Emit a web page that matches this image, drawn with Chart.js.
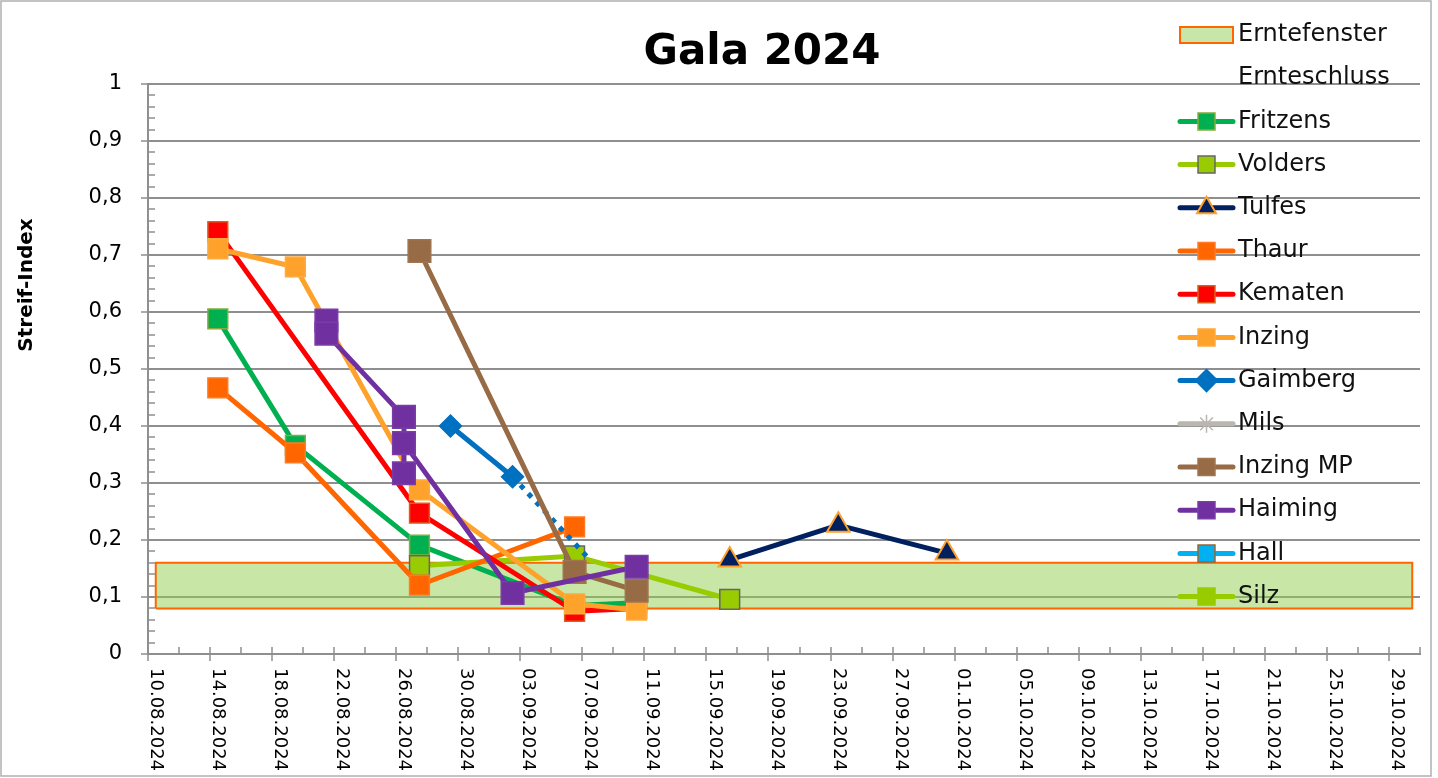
<!DOCTYPE html>
<html>
<head>
<meta charset="utf-8">
<title>Gala 2024</title>
<script src="https://cdn.jsdelivr.net/npm/chart.js@4.4.1/dist/chart.umd.min.js"></script>
<style>
  body { margin: 0; background: #fff; }
  canvas { display: block; }
</style>
</head>
<body>
<canvas id="chart" width="1438" height="778"></canvas>
<script>
const chartTitle = 'Gala 2024';
const yTitle = 'Streif-Index';

// Erntefenster (harvest window)
const bandDates = ['10.08', '30.10'];
const bandLow = 0.08;
const bandHigh = 0.16;

const fritzensDates = ['14.08', '19.08', '27.08', '06.09', '10.09'];
const fritzensValues = [0.588, 0.366, 0.191, 0.085, 0.09];

const voldersDates = ['27.08', '06.09', '16.09'];
const voldersValues = [0.155, 0.172, 0.096];

const tulfesDates = ['16.09', '23.09', '30.09'];
const tulfesValues = [0.165, 0.226, 0.177];

const thaurDates = ['14.08', '19.08', '27.08', '06.09'];
const thaurValues = [0.467, 0.353, 0.121, 0.223];

const kematenDates = ['14.08', '27.08', '06.09', '10.09'];
const kematenValues = [0.741, 0.247, 0.075, 0.08];

const inzingDates = ['14.08', '19.08', '27.08', '06.09', '10.09'];
const inzingValues = [0.711, 0.679, 0.288, 0.088, 0.077];

const gaimbergDates = ['29.08', '02.09', '07.09'];
const gaimbergValues = [0.40, 0.311, 0.165];

const inzingMpDates = ['27.08', '06.09', '10.09'];
const inzingMpValues = [0.707, 0.144, 0.111];

const haimingDates = ['21.08', '21.08', '26.08', '26.08', '26.08', '02.09', '10.09'];
const haimingValues = [0.585, 0.562, 0.416, 0.317, 0.370, 0.107, 0.153];

const axisGray = '#8f8f8f';
const startUTC = Date.UTC(2024, 7, 10);

function dayValue(s) {
  const [d, m] = s.split('.').map(Number);
  return (Date.UTC(2024, m - 1, d) - startUTC) / 864e5;
}
// excel date axis puts a point in the middle of its day
function toPoints(dates, values) {
  return dates.map((d, i) => ({ x: dayValue(d) + 0.5, y: values[i] }));
}
function dateLabel(v) {
  const t = new Date(startUTC + v * 864e5);
  const dd = String(t.getUTCDate()).padStart(2, '0');
  const mm = String(t.getUTCMonth() + 1).padStart(2, '0');
  return dd + '.' + mm + '.' + t.getUTCFullYear();
}

const series = [
  { label: 'Fritzens', dates: fritzensDates, values: fritzensValues, color: '#00B050', style: 'rect', fill: '#00B050', edge: '#86AC3C', r: 14 },
  { label: 'Volders', dates: voldersDates, values: voldersValues, color: '#99CC00', style: 'rect', fill: '#99CC00', edge: '#666666', r: 14 },
  { label: 'Tulfes', dates: tulfesDates, values: tulfesValues, color: '#002060', style: 'triangle', fill: '#002060', edge: '#FFA02B', r: 13 },
  { label: 'Thaur', dates: thaurDates, values: thaurValues, color: '#FF6600', style: 'rect', fill: '#FF6600', edge: '#FF7A22', r: 14 },
  { label: 'Kematen', dates: kematenDates, values: kematenValues, color: '#FF0000', style: 'rect', fill: '#FF0000', edge: '#D8601C', r: 14 },
  { label: 'Inzing', dates: inzingDates, values: inzingValues, color: '#FFA22B', style: 'rect', fill: '#FFA22B', edge: '#FFAA3C', r: 14 },
  { label: 'Gaimberg', dates: gaimbergDates, values: gaimbergValues, color: '#0070C0', style: 'rectRot', fill: '#0070C0', edge: '#0070C0', r: 11, dottedLast: true },
  { label: 'Mils', dates: [], values: [], color: '#BAB6B0', style: 'star', fill: '#BAB6B0', edge: '#BAB6B0', r: 10 },
  { label: 'Inzing MP', dates: inzingMpDates, values: inzingMpValues, color: '#976B45', style: 'rect', fill: '#976B45', edge: '#A07550', r: 16 },
  { label: 'Haiming', dates: haimingDates, values: haimingValues, color: '#7030A0', style: 'rect', fill: '#7030A0', edge: '#7A3DA8', r: 16 },
  { label: 'Hall', dates: [], values: [], color: '#00B0F0', style: 'rect', fill: '#00B0F0', edge: '#996633', r: 14 },
  { label: 'Silz', dates: [], values: [], color: '#99CC00', style: 'rect', fill: '#99CC00', edge: '#99CC00', r: 14 },
];

const datasets = series.map((s, i) => {
  const n = s.dates.length;
  return {
    label: s.label,
    data: toPoints(s.dates, s.values),
    order: 100 - i,
    borderColor: s.color,
    borderWidth: 5,
    pointStyle: s.style,
    pointRadius: s.dottedLast ? s.dates.map((d, k) => (k === n - 1 ? 0 : s.r)) : s.r,
    pointBackgroundColor: s.fill,
    pointBorderColor: s.edge,
    pointBorderWidth: s.style === 'triangle' ? 2 : 1.5,
    segment: s.dottedLast ? {
      borderDash: ctx => (ctx.p1DataIndex === n - 1 ? [5, 6.5] : undefined),
      borderCapStyle: ctx => (ctx.p1DataIndex === n - 1 ? 'butt' : undefined),
    } : undefined,
  };
});

const b0 = dayValue(bandDates[0]) + 0.5;
const b1 = dayValue(bandDates[1]) + 0.5;
datasets.push({
  label: 'Erntefenster',
  data: [
    { x: b0, y: bandLow }, { x: b0, y: bandHigh },
    { x: b1, y: bandHigh }, { x: b1, y: bandLow }, { x: b0, y: bandLow },
  ],
  order: 1000,
  borderColor: '#FF6600',
  borderWidth: 2,
  backgroundColor: 'rgba(146, 208, 80, 0.5)',
  fill: 'shape',
  pointRadius: 0,
  borderCapStyle: 'butt',
  borderJoinStyle: 'miter',
});

function markerPath(ctx, style, x, y, r) {
  ctx.beginPath();
  if (style === 'rect') {
    const s = r * Math.SQRT1_2;
    ctx.rect(x - s, y - s, 2 * s, 2 * s);
  } else if (style === 'rectRot') {
    ctx.moveTo(x - r, y); ctx.lineTo(x, y - r); ctx.lineTo(x + r, y); ctx.lineTo(x, y + r);
    ctx.closePath();
  } else if (style === 'triangle') {
    for (let k = 0; k < 3; k++) {
      const a = k * 2 * Math.PI / 3;
      const px = x + Math.sin(a) * r, py = y - Math.cos(a) * r;
      k ? ctx.lineTo(px, py) : ctx.moveTo(px, py);
    }
    ctx.closePath();
  } else if (style === 'star') {
    for (let k = 0; k < 4; k++) {
      const a = k * Math.PI / 4;
      ctx.moveTo(x - Math.cos(a) * r, y - Math.sin(a) * r);
      ctx.lineTo(x + Math.cos(a) * r, y + Math.sin(a) * r);
    }
  }
}

const excelLook = {
  id: 'excelLook',
  afterDraw(chart) {
    const { ctx, chartArea: area, scales: { x, y } } = chart;
    ctx.save();

    // tick marks: major ones cross the axis, minor ones sit inside
    ctx.strokeStyle = axisGray;
    ctx.lineWidth = 1.5;
    ctx.beginPath();
    for (let i = 0; i <= 50; i++) {
      const py = Math.round(y.getPixelForValue(i / 50));
      ctx.moveTo(area.left - (i % 5 === 0 ? 7 : 0), py);
      ctx.lineTo(area.left + 7, py);
    }
    for (let d = 0; d <= 82; d += 2) {
      const px = Math.round(x.getPixelForValue(d));
      ctx.moveTo(px, area.bottom - 7);
      ctx.lineTo(px, area.bottom + (d % 4 === 0 ? 7 : 0));
    }
    ctx.stroke();

    // date labels, turned clockwise like in excel
    ctx.fillStyle = '#000';
    ctx.font = '18px "DejaVu Sans"';
    ctx.textAlign = 'left';
    ctx.textBaseline = 'middle';
    x.ticks.forEach(t => {
      ctx.save();
      ctx.translate(x.getPixelForValue(t.value + 0.5), area.bottom + 14);
      ctx.rotate(Math.PI / 2);
      ctx.fillText(dateLabel(t.value), 0, 0);
      ctx.restore();
    });

    // titles
    ctx.textAlign = 'center';
    ctx.font = 'bold 42px "DejaVu Sans"';
    ctx.fillText(chartTitle, 762, 53);
    ctx.save();
    ctx.translate(27, 285);
    ctx.rotate(-Math.PI / 2);
    ctx.font = 'bold 20px "DejaVu Sans"';
    ctx.fillText(yTitle, 0, 0);
    ctx.restore();

    // legend on top of the plot, as in the original
    const lx0 = 1180, lx1 = 1233, mx = 1206.5, tx = 1238;
    const rowY = k => 35 + k * 43.2;
    ctx.font = '24px "DejaVu Sans"';
    ctx.textAlign = 'left';
    ctx.fillStyle = '#C8E6A8';
    ctx.fillRect(lx0, rowY(0) - 8, lx1 - lx0, 16);
    ctx.strokeStyle = '#FF6600';
    ctx.lineWidth = 2;
    ctx.strokeRect(lx0, rowY(0) - 8, lx1 - lx0, 16);
    ctx.fillStyle = '#111';
    ctx.fillText('Erntefenster', tx, rowY(0));
    ctx.fillText('Ernteschluss', tx, rowY(1));
    series.forEach((s, i) => {
      const ly = rowY(i + 2);
      ctx.strokeStyle = s.color;
      ctx.lineWidth = 5;
      ctx.lineCap = 'round';
      ctx.beginPath();
      ctx.moveTo(lx0, ly);
      ctx.lineTo(lx1, ly);
      ctx.stroke();
      const r = s.style === 'rect' ? 12 : (s.style === 'star' ? 9 : 11);
      markerPath(ctx, s.style, mx, ly, r);
      ctx.lineCap = 'butt';
      if (s.style === 'star') {
        ctx.strokeStyle = s.color;
        ctx.lineWidth = 1.5;
        ctx.stroke();
      } else {
        ctx.fillStyle = s.fill;
        ctx.fill();
        ctx.strokeStyle = s.edge;
        ctx.lineWidth = s.style === 'triangle' ? 2 : 1.5;
        ctx.stroke();
      }
      ctx.fillStyle = '#111';
      ctx.fillText(s.label, tx, ly);
    });

    // chart frame
    ctx.strokeStyle = '#b0b0b0';
    ctx.lineWidth = 1.5;
    ctx.strokeRect(1, 1, 1430, 775);
    ctx.restore();
  }
};

Chart.defaults.font.family = '"DejaVu Sans", sans-serif';

new Chart(document.getElementById('chart'), {
  type: 'line',
  data: { datasets },
  options: {
    responsive: false,
    animation: false,
    layout: { padding: { top: 84, right: 18, left: 0, bottom: 0 } },
    elements: { line: { tension: 0, borderJoinStyle: 'round', borderCapStyle: 'round' } },
    plugins: {
      legend: { display: false },
      tooltip: { enabled: false },
    },
    scales: {
      x: {
        type: 'linear',
        min: 0,
        max: 82,
        ticks: { display: false, stepSize: 4 },
        grid: { display: false },
        border: { display: true, color: axisGray, width: 2 },
        afterBuildTicks: scale => {
          const ticks = [];
          for (let v = 0; v <= 80; v += 4) ticks.push({ value: v });
          scale.ticks = ticks;
        },
        afterFit: scale => { scale.height = 124; },
      },
      y: {
        min: 0,
        max: 1,
        ticks: {
          stepSize: 0.1,
          padding: 26,
          color: '#000',
          font: { size: 21 },
          callback: v => String(Number(v.toFixed(1))).replace('.', ','),
        },
        grid: { color: axisGray, lineWidth: 2, drawTicks: false },
        border: { color: axisGray, width: 2 },
        afterFit: scale => { scale.width = 148; },
      },
    },
  },
  plugins: [excelLook],
});
</script>
</body>
</html>
